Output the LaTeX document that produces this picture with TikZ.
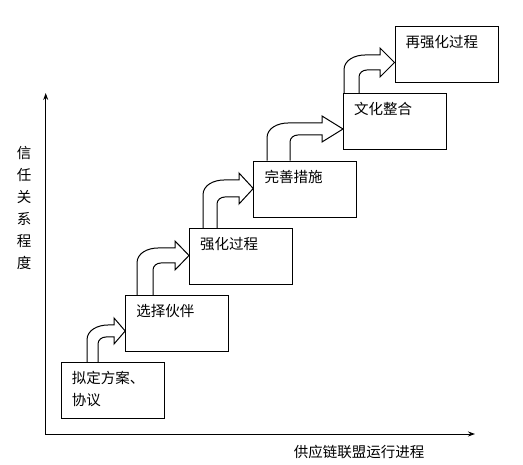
\documentclass[tikz,border=0pt]{standalone}
\usepackage{fontspec}
\newfontfamily\cjk{Noto Sans CJK SC}
\usetikzlibrary{arrows.meta,positioning,calc}
\tikzset{
  stage/.style={draw, line width=1pt, minimum width=103pt, minimum height=56pt, inner sep=0pt},
  stagetext/.style={anchor=north west, inner sep=0pt, align=left,
                    font=\cjk\fontsize{14.5}{22}\selectfont},
  axislabel/.style={inner sep=0pt, align=center, font=\cjk\fontsize{14.5}{22}\selectfont},
  axisline/.style={{Stealth[length=7pt,width=5pt]}-{Stealth[length=7pt,width=5pt]}, line width=0.9pt},
  turnarrow/.style={line width=1pt, line join=miter}
}
% #1 from, #2 to, #3 outer x, #4 inner x, #5 outer y, #6 inner y, #7 head x
\newcommand{\stairarrow}[7]{%
  \draw[turnarrow] let \p1=(#1.north), \p2=(#2.west) in
    (#3,\y1) -- (#3,#5-15) to[out=90,in=180] (#3+21,#5) -- (#7,#5) -- (#7,#5+7)
    -- (\x2,{(#5+#6)/2}) -- (#7,#6-7) -- (#7,#6) -- (#4+8,#6) to[out=180,in=90] (#4,#6-7)
    -- (#4,\y1);
}

\begin{document}
\begin{tikzpicture}[x=1pt, y=1pt]
\useasboundingbox (0,0) rectangle (523,465);

\coordinate (o) at (45.7,31);
\coordinate (ytop) at (45.7,372);
\coordinate (xend) at (475,31);
\draw[axisline] (ytop) |- (xend);
\node[axislabel] (ylab) at (24,257.5) {信\\任\\关\\系\\程\\度};
\node[axislabel] (xlab) at (359,13.3) {供应链联盟运行进程};

\node[stage] (s1) at (112.7,74.2) {};
\node[stage] (s2) at (177.2,141.5) {};
\node[stage] (s3) at (241,208.7) {};
\node[stage] (s4) at (305.3,275.8) {};
\node[stage] (s5) at (395,343) {};
\node[stage] (s6) at (446.5,410.5) {};

\node[stagetext] (t1) at ([shift={(11,-9)}]s1.north west) {拟定方案、\\协议};
\node[stagetext] (t2) at ([shift={(11,-9)}]s2.north west) {选择伙伴};
\node[stagetext] (t3) at ([shift={(11,-9)}]s3.north west) {强化过程};
\node[stagetext] (t4) at ([shift={(11,-9)}]s4.north west) {完善措施};
\node[stagetext] (t5) at ([shift={(11,-9)}]s5.north west) {文化整合};
\node[stagetext] (t6) at ([shift={(11,-9)}]s6.north west) {再强化过程};

\stairarrow{s1}{s2}{87}{98}{140}{128}{114}
\stairarrow{s2}{s3}{137}{153}{217}{202}{175}
\stairarrow{s3}{s4}{203}{217}{285}{268}{239}
\stairarrow{s4}{s5}{267}{290}{342}{330}{322}
\stairarrow{s5}{s6}{344}{359}{410}{395}{380}
\end{tikzpicture}
\end{document}
